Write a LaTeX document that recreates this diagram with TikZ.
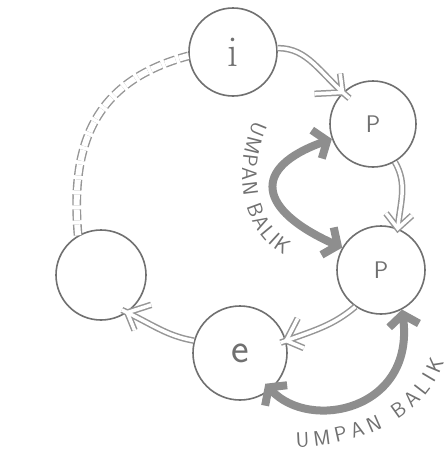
\documentclass[tikz,border=0pt]{standalone}
\usetikzlibrary{arrows.meta,decorations.text,decorations.markings}
\definecolor{ink}{HTML}{707070}
\definecolor{lightink}{HTML}{969696}
\definecolor{fbgray}{HTML}{8E8E8E}
\tikzset{
  circ/.style={circle, draw=ink, line width=1.6pt, inner sep=0pt, text=ink},
  chev/.style 2 args={postaction={decorate}, decoration={markings,
    mark=at position 0.999 with {\draw[#1, line width=#2, line join=miter, line cap=butt]
      (-14pt,13pt) -- (0,0) -- (-14pt,-13pt);}}},
  hollowout/.style={draw=lightink, line width=6.5pt, chev={lightink}{6.5pt}},
  hollowin/.style={draw=white, line width=3.5pt, chev={white}{3.5pt}},
  fb/.style={line width=8pt, fbgray,
    {Straight Barb[length=11pt,width=30pt]}-{Straight Barb[length=11pt,width=30pt]}},
  dashdouble/.style={draw=lightink, line width=1.4pt, double=white, double distance=6pt,
    dash pattern=on 11pt off 4pt},
  fbtext/.style={decorate, decoration={text along path,
    text={|\sffamily\fontsize{21}{21}\selectfont\color{ink}|UMPAN BALIK},
    text align={fit to path}}}
}
\begin{document}
\begin{tikzpicture}[x=1pt,y=1pt]
\useasboundingbox[fill=white] (0,0) rectangle (447,-453);

\node[circ, minimum size=88pt, font=\fontsize{44}{44}\selectfont] (i) at (233,-52) {i};
\node[circ, minimum size=86pt, font=\sffamily\fontsize{24}{24}\selectfont] (p1) at (373,-124) {P};
\node[circ, minimum size=88pt, font=\sffamily\fontsize{24}{24}\selectfont] (p2) at (381,-270) {P};
\node[circ, minimum size=94pt, font=\sffamily\fontsize{42}{42}\selectfont] (e) at (240,-353) {e};
\node[circ, minimum size=90pt] (b) at (101,-275) {};

% hollow flow arrows
\foreach \st in {hollowout, hollowin} {
  \draw[\st, shorten >=-9pt] (i.5) to[out=0, in=140] (p1.134);
  \draw[\st] (p1.-60) to[out=-60, in=85] (p2.68);
  \draw[\st, shorten >=-6pt] (p2.-125) to[out=-140, in=20] (e.15);
  \draw[\st, shorten >=-6pt] (e.165) to[out=170, in=-25] (b.-55);
}

% dashed double link
\draw[dashdouble] (b.120) to[out=95, in=195, looseness=1.15] (i.185);

% feedback arrows
\draw[fb] (p1.200) .. controls (250,-168) and (258,-210) .. (p2.150);
\draw[fb, shorten <=-8pt] (e.-50) .. controls (310,-432) and (415,-410) .. (p2.-62);

% labels
\path[fbtext] (254,-121) .. controls (233,-165) and (238,-230) .. (284,-255);
\path[fbtext] (296,-447) .. controls (350,-446) and (421,-426) .. (444,-362);
\end{tikzpicture}
\end{document}
